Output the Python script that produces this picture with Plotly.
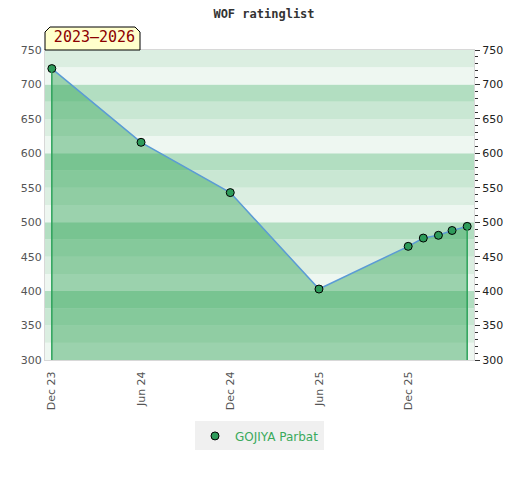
import plotly.graph_objects as go

# data
dates = ['2023-12-01', '2024-06-01', '2024-12-01', '2025-06-01', '2025-12-01',
         '2026-01-01', '2026-02-01', '2026-03-01', '2026-04-01']
ratings = [723, 616, 543, 403, 465, 477, 481, 488, 494]
player = 'GOJIYA Parbat'
tick_dates = ['2023-12-01', '2024-06-01', '2024-12-01', '2025-06-01', '2025-12-01']
tick_labels = ['Dec 23', 'Jun 24', 'Dec 24', 'Jun 25', 'Dec 25']
y_min, y_max = 300, 750

fig = go.Figure()

# filled area + line
fig.add_trace(go.Scatter(x=dates, y=ratings, mode='lines', fill='tozeroy',
                         fillcolor='rgba(40,160,78,0.42)',
                         line=dict(color='#5b9bd5', width=1.5),
                         showlegend=False, hoverinfo='skip'))
# points
fig.add_trace(go.Scatter(x=dates, y=ratings, mode='markers', name=player,
                         marker=dict(size=8, color='#2e9b5a',
                                     line=dict(color='black', width=1))))
# dummy trace so the right axis gets drawn
fig.add_trace(go.Scatter(x=dates[:1], y=ratings[:1], yaxis='y2', mode='markers',
                         marker=dict(opacity=0), showlegend=False, hoverinfo='skip'))

# background bands, 4 colours repeating every 25 points
band_colors = ['#eef7f1', '#dbeee1', '#c9e7d3', '#b2dec1']
for i, lo in enumerate(range(y_min, y_max, 25)):
    fig.add_shape(type='rect', xref='x domain', yref='y', x0=0, x1=1,
                  y0=lo, y1=lo + 25, fillcolor=band_colors[i % 4],
                  line=dict(width=0), layer='below')

# vertical edges of the area
for d, r in [(dates[0], ratings[0]), (dates[-1], ratings[-1])]:
    fig.add_shape(type='line', xref='x', yref='y', x0=d, x1=d, y0=y_min, y1=r,
                  line=dict(color='#2ca25a', width=1.5))

# period label box with cut top corners
fig.add_shape(type='path', xref='paper', yref='paper', xsizemode='pixel', ysizemode='pixel',
              xanchor=0, yanchor=1, path='M0,0 L0,18 L5,23 L90,23 L95,18 L95,0 Z',
              fillcolor='#ffffcc', line=dict(color='black', width=1), layer='above')
fig.add_annotation(text='2023\u20132026', xref='paper', yref='paper', x=0, y=1,
                   xanchor='left', yanchor='bottom', showarrow=False,
                   width=95, height=23, align='center',
                   font=dict(family='DejaVu Sans Mono', size=15, color='#8b0000'))

fig.update_layout(
    width=512, height=472,
    margin=dict(l=37, r=46, t=42, b=120),
    title=dict(text='WOF ratinglist', x=0.5, xanchor='center', y=0.997, yanchor='top',
               font=dict(family='DejaVu Sans Mono', size=12, color='#333333', weight='bold')),
    plot_bgcolor='white', paper_bgcolor='white',
    font=dict(family='DejaVu Sans', size=11, color='#555555'),
    xaxis=dict(type='date', range=['2023-11-17', '2026-04-15'],
               tickvals=tick_dates, ticktext=tick_labels, tickangle=-90,
               showgrid=False, showline=True, linecolor='#d8d8d8', mirror=True,
               zeroline=False, ticks='', ticklabelstandoff=6),
    yaxis=dict(range=[y_min, y_max], dtick=50, showgrid=False, zeroline=False,
               showline=True, linecolor='#d8d8d8', mirror=True, ticks=''),
    yaxis2=dict(range=[y_min, y_max], dtick=50, overlaying='y', side='right',
                showgrid=False, zeroline=False, ticks='outside', ticklen=5,
                tickcolor='#333333', tickfont=dict(color='#222222'),
                minor=dict(ticks='outside', dtick=10, ticklen=3, tickcolor='#333333')),
    legend=dict(orientation='h', x=0.5, xanchor='center', y=-0.245, yanchor='middle',
                bgcolor='#f0f0f0', font=dict(color='#3aaa5c', size=12)),
)

fig.write_html('out.html')
